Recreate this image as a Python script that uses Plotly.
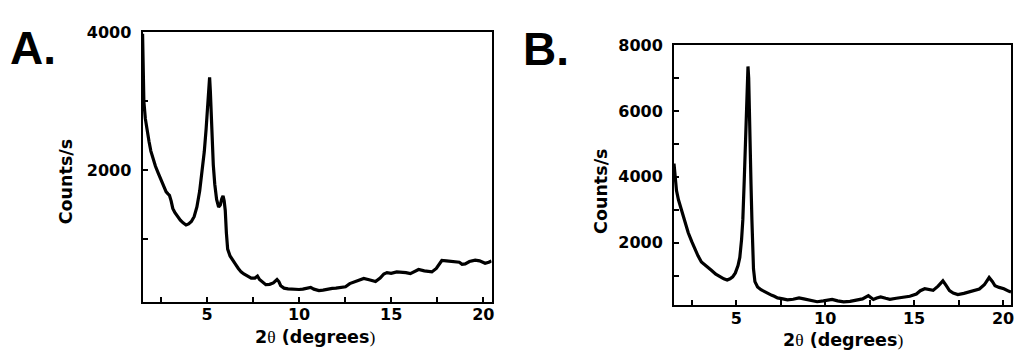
import plotly.graph_objects as go

# Powder XRD patterns: 2-theta (degrees) vs. intensity (counts/s)
two_theta_a = [1.50, 1.53, 1.57, 1.65, 1.75, 1.85, 1.95, 2.05, 2.20, 2.35, 2.50, 2.65, 2.78, 2.88, 2.96,
               3.05, 3.14, 3.25, 3.40, 3.55, 3.70, 3.86, 4.00, 4.15, 4.30, 4.45, 4.60, 4.72, 4.85, 4.95,
               5.03, 5.10, 5.14, 5.18, 5.22, 5.28, 5.34, 5.42, 5.52, 5.63, 5.72, 5.80, 5.87, 5.93, 5.99,
               6.05, 6.12, 6.25, 6.40, 6.55, 6.70, 6.85, 7.00, 7.20, 7.40, 7.60, 7.74, 7.85, 8.00, 8.19,
               8.40, 8.60, 8.80, 8.90, 9.00, 9.18, 9.40, 9.60, 9.80, 10.0, 10.2, 10.4, 10.63, 10.80, 11.08,
               11.30, 11.55, 11.80, 12.00, 12.25, 12.52, 12.75, 12.97, 13.20, 13.51, 13.80, 14.15, 14.40,
               14.60, 14.77, 15.00, 15.30, 15.59, 15.80, 16.04, 16.25, 16.49, 16.80, 17.00, 17.21, 17.45,
               17.60, 17.75, 18.00, 18.25, 18.48, 18.70, 18.85, 19.02, 19.25, 19.56, 19.80, 20.10, 20.30, 20.45]
counts_a = [3980, 3500, 3000, 2750, 2550, 2420, 2280, 2180, 2060, 1960, 1870, 1770, 1690, 1660, 1640,
            1560, 1450, 1390, 1330, 1280, 1240, 1210, 1225, 1260, 1330, 1470, 1700, 1950, 2270, 2600,
            2930, 3250, 3350, 3150, 2830, 2400, 2080, 1800, 1580, 1470, 1500, 1590, 1630, 1560, 1420,
            1100, 860, 760, 690, 640, 580, 530, 500, 470, 440, 440, 470, 420, 380, 345,
            350, 370, 420, 390, 330, 295, 285, 280, 275, 275, 280, 290, 305, 280, 260,
            265, 280, 290, 295, 300, 315, 360, 385, 400, 435, 415, 390, 440,
            500, 520, 510, 530, 530, 520, 505, 530, 565, 545, 535, 530, 580,
            640, 695, 690, 685, 680, 670, 640, 645, 680, 700, 690, 655, 670, 690]

two_theta_b = [1.50, 1.55, 1.64, 1.75, 1.92, 2.10, 2.30, 2.50, 2.67, 2.85, 3.04, 3.20, 3.40, 3.60, 3.85,
               4.07, 4.30, 4.49, 4.65, 4.80, 4.95, 5.10, 5.20, 5.30, 5.37, 5.45, 5.50, 5.55, 5.59, 5.63,
               5.66, 5.70, 5.74, 5.79, 5.83, 5.88, 5.92, 5.97, 6.05, 6.20, 6.39, 6.70, 7.00, 7.14, 7.32,
               7.55, 7.88, 8.20, 8.53, 8.80, 9.10, 9.55, 9.90, 10.15, 10.39, 10.70, 11.04, 11.40, 11.78,
               12.10, 12.43, 12.60, 12.71, 12.90, 13.12, 13.40, 13.64, 14.00, 14.40, 14.76, 15.13, 15.35,
               15.60, 15.85, 16.07, 16.35, 16.62, 16.80, 16.99, 17.20, 17.46, 17.80, 18.11, 18.40, 18.67,
               18.95, 19.22, 19.40, 19.55, 19.78, 20.05, 20.34, 20.45]
counts_b = [4400, 4100, 3580, 3300, 2990, 2620, 2300, 2030, 1800, 1600, 1410, 1330, 1230, 1160, 1040,
            960, 900, 866, 900, 960, 1080, 1300, 1550, 2100, 2690, 3900, 4760, 6000, 6740, 7200,
            7350, 7000, 6240, 5000, 3780, 2700, 1800, 1200, 816, 650, 570, 470, 400, 372, 320,
            300, 260, 280, 320, 290, 250, 205, 230, 250, 275, 230, 200, 215, 245,
            290, 390, 320, 275, 320, 350, 310, 280, 310, 340, 370, 440, 540,
            600, 560, 550, 680, 840, 700, 545, 470, 425, 460, 500, 540, 590,
            720, 940, 820, 690, 640, 600, 520, 500]

x_ticks = [5, 10, 15, 20]
y_ticks_a = [2000, 4000]
y_ticks_b = [2000, 4000, 6000, 8000]

W, H = 1016, 350
TICK_FONT = dict(family="DejaVu Sans", size=16, color="black", weight="bold")


def px(x):
    return x / W


def py(y):
    return 1 - y / H


fig = go.Figure()
line = dict(color="black", width=3.2)
fig.add_trace(go.Scatter(x=two_theta_a, y=counts_a, mode="lines", line=line,
                         xaxis="x", yaxis="y", showlegend=False))
fig.add_trace(go.Scatter(x=two_theta_b, y=counts_b, mode="lines", line=line,
                         xaxis="x2", yaxis="y2", showlegend=False))


def xaxis(domain, anchor, standoff):
    return dict(domain=domain, anchor=anchor, range=[1.5, 20.45],
                tickvals=x_ticks, ticktext=[str(v) for v in x_ticks],
                ticks="inside", ticklen=5, tickwidth=1.5, tickcolor="black",
                minor=dict(tickvals=[2.5, 7.5, 12.5, 17.5], ticks="inside", ticklen=5,
                           tickwidth=1.5, tickcolor="black"),
                showline=True, linecolor="black", linewidth=2, mirror=True,
                showgrid=False, zeroline=False, tickfont=TICK_FONT, ticklabelstandoff=standoff)


def yaxis(domain, anchor, rng, ticks, minor):
    return dict(domain=domain, anchor=anchor, range=rng,
                tickvals=ticks, ticktext=[str(v) for v in ticks],
                ticks="inside", ticklen=5, tickwidth=1.5, tickcolor="black",
                minor=dict(tickvals=minor, ticks="inside", ticklen=5,
                           tickwidth=1.5, tickcolor="black"),
                showline=True, linecolor="black", linewidth=2, mirror=True,
                showgrid=False, zeroline=False, tickfont=TICK_FONT, ticklabelstandoff=6)


fig.update_layout(
    width=W, height=H,
    margin=dict(l=0, r=0, t=0, b=0),
    paper_bgcolor="white", plot_bgcolor="white",
    xaxis=xaxis([px(143), px(493)], "y", -3),
    yaxis=yaxis([py(301), py(24)], "x", [90, 4000], y_ticks_a, [1000, 3000]),
    xaxis2=xaxis([px(676), px(1014)], "y2", -2),
    yaxis2=yaxis([py(304), py(37)], "x2", [100, 8000], y_ticks_b, [1000, 3000, 5000, 7000]),
)

title_font = dict(family="DejaVu Sans", size=17.5, color="black", weight="bold")
x_title = ("2<span style='font-family:Liberation Serif;font-weight:normal'>\u03b8</span>"
           " (degrees<span style='font-family:Liberation Serif;font-weight:normal'>)</span>")

annotations = [
    dict(text="A.", x=px(8), y=py(40), xanchor="left", yanchor="middle",
         font=dict(family="Liberation Sans", size=46, color="black", weight="bold")),
    dict(text="B.", x=px(523), y=py(41), xanchor="left", yanchor="middle",
         font=dict(family="Liberation Sans", size=46, color="black", weight="bold")),
    dict(text="Counts/s", textangle=-90, x=px(67), y=py(177), xanchor="center", yanchor="middle",
         font=title_font),
    dict(text="Counts/s", textangle=-90, x=px(602.5), y=py(187), xanchor="center", yanchor="middle",
         font=title_font),
    dict(text=x_title, x=px(316), y=py(337), xanchor="center", yanchor="middle", font=title_font),
    dict(text=x_title, x=px(845), y=py(340), xanchor="center", yanchor="middle", font=title_font),
]
for a in annotations:
    a.update(xref="paper", yref="paper", showarrow=False)
fig.update_layout(annotations=annotations)

fig.write_html("out.html")
